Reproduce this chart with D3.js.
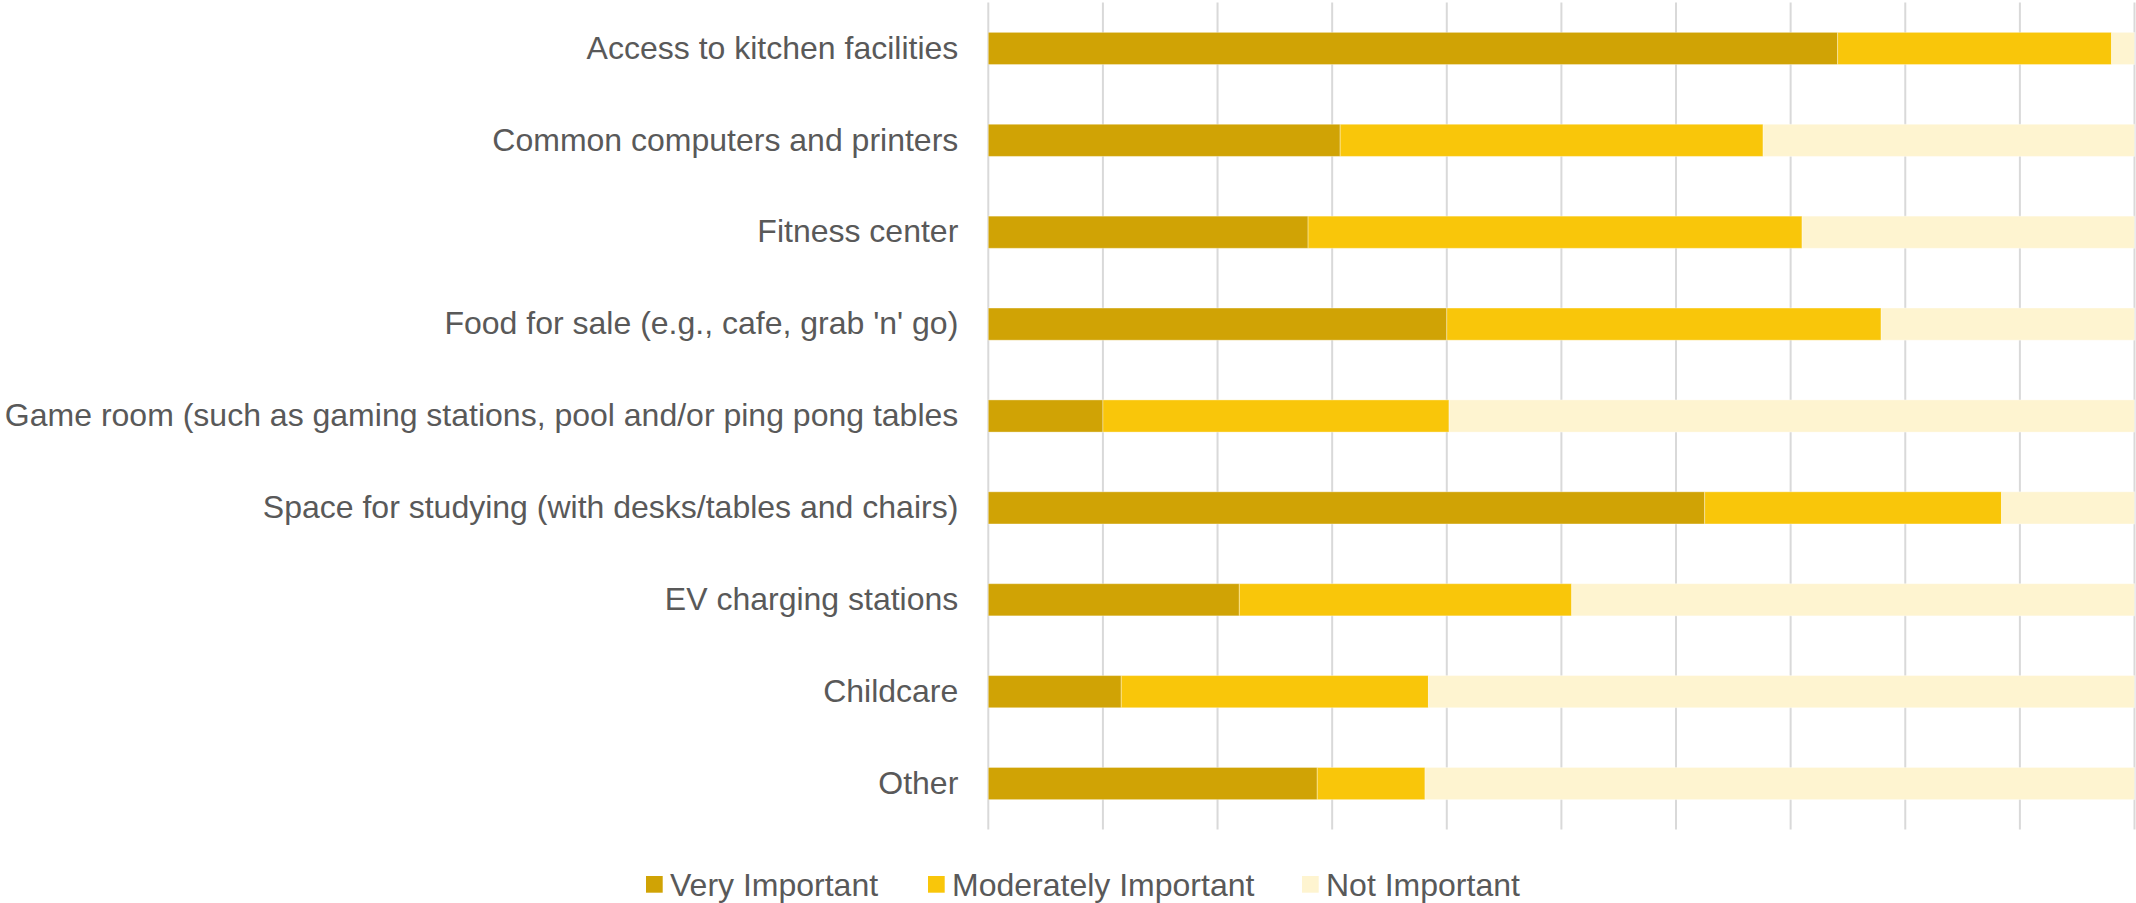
<!DOCTYPE html>
<html>
<head>
<meta charset="utf-8">
<script src="https://cdn.jsdelivr.net/npm/d3@7"></script>
<style>
  html, body { margin: 0; padding: 0; background: #fff; }
  svg { display: block; }
  text { font-family: "Liberation Sans", Arial, sans-serif; fill: #595959; }
</style>
</head>
<body>
<svg id="chart" width="2136" height="903"></svg>
<script>
// Amenity categories, top to bottom
const categories = [
  "Access to kitchen facilities",
  "Common computers and printers",
  "Fitness center",
  "Food for sale (e.g., cafe, grab 'n' go)",
  "Game room (such as gaming stations, pool and/or ping pong tables",
  "Space for studying (with desks/tables and chairs)",
  "EV charging stations",
  "Childcare",
  "Other"
];

// Share of respondents (%) per rating
const veryImportant       = [74.1, 30.7, 27.9, 40.0, 10.0, 62.5, 21.9, 11.6, 28.7];
const moderatelyImportant = [23.9, 36.9, 43.1, 37.9, 30.2, 25.9, 29.0, 26.8,  9.4];
const notImportant        = [ 2.0, 32.4, 29.0, 22.1, 59.8, 11.6, 49.1, 61.6, 61.9];

const seriesNames  = ["Very Important", "Moderately Important", "Not Important"];
const seriesColors = ["#D0A305", "#F9C60A", "#FEF4D0"];

const xTicks = d3.range(0, 101, 10);

const svg = d3.select("#chart");

const x = d3.scaleLinear().domain([0, 100]).range([988.3, 2134.5]);
const y = d3.scaleBand().domain(categories).range([2.5, 829.5])
  .paddingInner(0.65).paddingOuter(0.325);

// Vertical gridlines
svg.append("g").selectAll("line").data(xTicks).join("line")
  .attr("x1", d => x(d)).attr("x2", d => x(d))
  .attr("y1", y.range()[0]).attr("y2", y.range()[1])
  .attr("stroke", "#d9d9d9").attr("stroke-width", 2);

// Stacked bars
const rows = categories.map((c, i) => ({
  category: c,
  "Very Important": veryImportant[i],
  "Moderately Important": moderatelyImportant[i],
  "Not Important": notImportant[i]
}));
const stacked = d3.stack().keys(seriesNames)(rows);

svg.append("g").selectAll("g").data(stacked).join("g")
  .attr("fill", (d, i) => seriesColors[i])
  .selectAll("rect").data(d => d).join("rect")
  .attr("x", d => x(d[0]))
  .attr("width", d => x(d[1]) - x(d[0]))
  .attr("y", d => y(d.data.category))
  .attr("height", y.bandwidth())
  .attr("stroke", "#ffffff").attr("stroke-opacity", 0.35).attr("stroke-width", 1);

// Category labels
const yAxis = d3.axisLeft(y).tickSize(0).tickPadding(30);
const ya = svg.append("g").attr("transform", `translate(${x(0)},0)`).call(yAxis);
ya.select(".domain").remove();
ya.selectAll("text")
  .attr("fill", "#595959")
  .style("font-size", "32px")
  .style("font-family", "'Liberation Sans', Arial, sans-serif");

// Legend
const legendX = [646, 928, 1302];
const legend = svg.append("g").selectAll("g").data(seriesNames).join("g")
  .attr("transform", (d, i) => `translate(${legendX[i]},876)`);
legend.append("rect").attr("width", 16.7).attr("height", 16.7)
  .attr("fill", (d, i) => seriesColors[i]);
legend.append("text").attr("x", 24).attr("y", 8.4).attr("dy", "0.35em")
  .style("font-size", "32px").text(d => d);
</script>
</body>
</html>
